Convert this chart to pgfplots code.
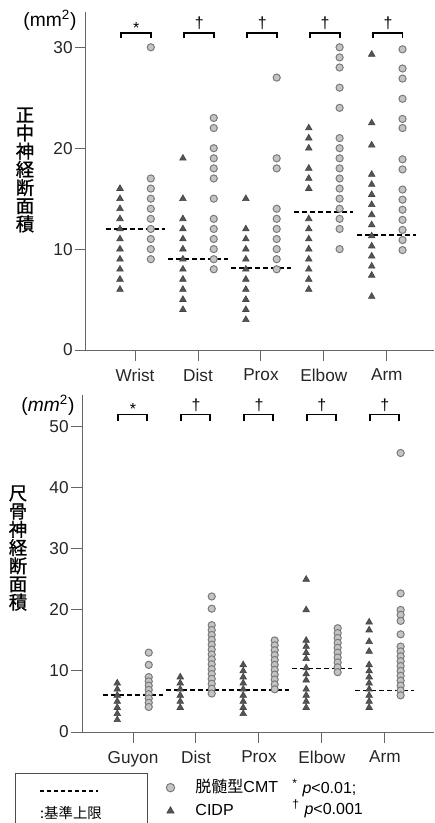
\documentclass[border=0pt]{standalone}
\usepackage{fontspec}
\setmainfont{Liberation Sans}
\newfontfamily\jp{Noto Sans CJK JP}
\newfontfamily\jpb[FakeBold=1]{Noto Sans CJK JP}
\usepackage{pgfplots}
\usepackage{pgfplotstable}
\pgfplotsset{compat=1.18}
\definecolor{cmtfill}{HTML}{C4C4C4}
\definecolor{cmtedge}{HTML}{7A7A7A}
\definecolor{cidp}{HTML}{555555}

\pgfplotstableread{
c y
0 16
0 15
0 14
0 13
0 12
0 11
0 10
0 9
0 8
0 7
0 6
1 19
1 15
1 13
1 12
1 11
1 10
1 9
1 8
1 7
1 6
1 5
1 4
2 15
2 12
2 11
2 10
2 9
2 8
2 7
2 6
2 5
2 4
2 3
3 22
3 21
3 20
3 18
3 17
3 16
3 13
3 12
3 11
3 10
3 9
3 8
3 7
3 6
4 29.3
4 22.5
4 20.3
4 17.4
4 16.4
4 15.4
4 14.4
4 13.4
4 12.4
4 11.3
4 10.3
4 9.3
4 8.3
4 7.4
4 5.3
}\topcidp

\pgfplotstableread{
c y
0 30
0 17
0 16
0 15
0 14
0 13
0 12
0 11
0 10
0 9
1 23
1 22
1 20
1 19
1 18
1 17
1 15
1 13
1 12
1 11
1 10
1 9
1 8
2 27
2 19
2 18
2 14
2 13
2 12
2 11
2 10
2 9
2 8
3 30
3 29
3 28
3 26
3 24
3 21
3 20
3 19
3 18
3 17
3 16
3 15
3 14
3 13
3 12
3 10
4 29.8
4 27.9
4 26.9
4 24.9
4 22.9
4 22
4 18.9
4 17.9
4 15.9
4 14.9
4 13.9
4 12.9
4 11.9
4 10.9
4 9.9
}\topcmt

\pgfplotstableread{
c y
0 8
0 7
0 6
0 5
0 4
0 3
0 2
1 9
1 8
1 7
1 6
1 5
1 4
2 11
2 10
2 9
2 8
2 7
2 6
2 5
2 4
2 3
3 25
3 20
3 15
3 14
3 13
3 12
3 10.5
3 9.5
3 8.5
3 7
3 6
3 5
3 4
4 18
4 16.7
4 14.8
4 13.2
4 11
4 10
4 9
4 8
4 7
4 6
4 5
4 4
}\botcidp

\pgfplotstableread{
c y
0 13
0 11
0 9
0 8.3
0 7.6
0 6.9
0 6.2
0 5.5
0 4.8
0 4.1
1 22.2
1 20.2
1 17.5
1 16.7
1 15.9
1 15.1
1 14.3
1 13.5
1 12.7
1 11.9
1 11.1
1 10.3
1 9.5
1 8.7
1 7.9
1 7.1
1 6.3
2 15
2 14.2
2 13.4
2 12.6
2 11.8
2 11.0
2 10.2
2 9.4
2 8.6
2 7.8
2 7.0
3 17
3 16.2
3 15.4
3 14.6
3 13.8
3 13
3 12.2
3 11.4
3 10.6
3 9.8
4 45.7
4 22.7
4 20
4 19.2
4 18.2
4 16
4 14
4 13.2
4 12.4
4 11.6
4 10.8
4 10
4 9.2
4 8.4
4 7.6
4 6.8
4 6.0
}\botcmt

\pgfplotsset{
  panel/.style={
    scale only axis,
    axis x line=bottom, axis y line=left,
    axis line style={-, black!60, line width=0.5pt},
    tick style={black!60, line width=0.5pt},
    tick align=outside, major tick length=5.5pt,
    xtick={0,1,2,3,4},
    clip=false,
    /pgf/number format/assume math mode=true,
    tick label style={font=\fontsize{8.6}{10}\selectfont, black!85},
    yticklabel style={inner sep=1pt},
    xticklabel style={yshift=-0.5pt},
  },
  cidpm/.style={only marks, mark=triangle*, mark size=1.9pt,
    mark options={fill=cidp, draw=cidp!80!black, line width=0.3pt}},
  cmtm/.style={only marks, mark=*, mark size=1.8pt,
    mark options={fill=cmtfill, draw=cmtedge, line width=0.5pt}},
  med/.style={black, line width=0.95pt, dash pattern=on 2.5pt off 1.5pt},
  brk/.style={black, line width=0.9pt},
}

\begin{document}
\begin{tikzpicture}
\path[use as bounding box] (0,0) rectangle (217pt,-411.5pt);

% ---------- top panel ----------
\begin{axis}[panel,
  at={(43pt,-175pt)}, anchor=south west,
  width=174pt, height=169pt,
  xmin=-0.78, xmax=4.75, ymin=0, ymax=33.5,
  ytick={0,10,20,30},
  xticklabels={Wrist,Dist,Prox,Elbow,Arm}]
\addplot[cidpm] table[x expr=\thisrow{c}-0.24, y=y] {\topcidp};
\addplot[cmtm] table[x expr=\thisrow{c}+0.25, y=y] {\topcmt};
\addplot[med] coordinates {(-0.47,12) (0.47,12)};
\addplot[med] coordinates {(0.53,9.0) (1.47,9.0)};
\addplot[med] coordinates {(1.53,8.1) (2.47,8.1)};
\addplot[med] coordinates {(2.53,13.7) (3.47,13.7)};
\addplot[med] coordinates {(3.53,11.4) (4.47,11.4)};
\addplot[brk] coordinates {(-0.22,30.9) (-0.22,31.4) (0.25,31.4) (0.25,30.9)};
\addplot[brk] coordinates {(0.78,30.9) (0.78,31.4) (1.25,31.4) (1.25,30.9)};
\addplot[brk] coordinates {(1.78,30.9) (1.78,31.4) (2.25,31.4) (2.25,30.9)};
\addplot[brk] coordinates {(2.78,30.9) (2.78,31.4) (3.25,31.4) (3.25,30.9)};
\addplot[brk] coordinates {(3.78,30.9) (3.78,31.4) (4.25,31.4) (4.25,30.9)};
\node[font=\fontsize{8}{8}\selectfont] at (axis cs:0.02,31.9) {*};
\node[font=\fontsize{8}{8}\selectfont] at (axis cs:1.02,32.4) {†};
\node[font=\fontsize{8}{8}\selectfont] at (axis cs:2.02,32.4) {†};
\node[font=\fontsize{8}{8}\selectfont] at (axis cs:3.02,32.4) {†};
\node[font=\fontsize{8}{8}\selectfont] at (axis cs:4.02,32.4) {†};
\end{axis}

% ---------- bottom panel ----------
\begin{axis}[panel,
  at={(41pt,-366pt)}, anchor=south west,
  width=176pt, height=168.5pt,
  xmin=-0.81, xmax=4.78, ymin=0, ymax=55.2,
  ytick={0,10,20,30,40,50},
  xticklabels={Guyon,Dist,Prox,Elbow,Arm},
  legend image code/.code={%
    \path[draw=none, fill=none] (-2.5pt,-2.5pt) rectangle (12pt,2.5pt);
    \draw[#1, mark size=2.1pt] plot coordinates {(0pt,0pt)};},
  legend style={draw=none, fill=none, at={(0.236,-0.1365)}, anchor=north west,
    font=\fontsize{8}{9}\selectfont, row sep=3pt, inner sep=0pt,
    nodes={inner sep=0.5pt}},
  legend cell align=left]
\addplot[cmtm] table[x expr=\thisrow{c}+0.25, y=y] {\botcmt};
\addlegendentry{{\jp 脱髄型}CMT}
\addplot[cidpm] table[x expr=\thisrow{c}-0.25, y=y] {\botcidp};
\addlegendentry{CIDP}
\addplot[med, forget plot] coordinates {(-0.47,6.1) (0.47,6.1)};
\addplot[med, forget plot] coordinates {(0.53,6.9) (1.47,6.9)};
\addplot[med, forget plot] coordinates {(1.53,6.9) (2.47,6.9)};
\addplot[med, forget plot] coordinates {(2.53,10.4) (3.47,10.4)};
\addplot[med, forget plot] coordinates {(3.53,6.8) (4.47,6.8)};
\addplot[brk, forget plot] coordinates {(-0.24,50.9) (-0.24,52) (0.22,52) (0.22,50.9)};
\addplot[brk, forget plot] coordinates {(0.76,50.9) (0.76,52) (1.22,52) (1.22,50.9)};
\addplot[brk, forget plot] coordinates {(1.76,50.9) (1.76,52) (2.22,52) (2.22,50.9)};
\addplot[brk, forget plot] coordinates {(2.76,50.9) (2.76,52) (3.22,52) (3.22,50.9)};
\addplot[brk, forget plot] coordinates {(3.76,50.9) (3.76,52) (4.22,52) (4.22,50.9)};
\node[font=\fontsize{8}{8}\selectfont] at (axis cs:0,52.9) {*};
\node[font=\fontsize{8}{8}\selectfont] at (axis cs:1,53.6) {†};
\node[font=\fontsize{8}{8}\selectfont] at (axis cs:2,53.6) {†};
\node[font=\fontsize{8}{8}\selectfont] at (axis cs:3,53.6) {†};
\node[font=\fontsize{8}{8}\selectfont] at (axis cs:4,53.6) {†};
\end{axis}

% ---------- axis titles ----------
\node[font=\fontsize{9.6}{10}\selectfont] at (25pt,-10pt) {(mm\textsuperscript{2})};
\node[font=\fontsize{9.6}{10}\selectfont] at (24pt,-202.5pt) {(\textit{mm}\textsuperscript{2})};
\node[align=center, font=\jpb\fontsize{9.2}{9.1}\selectfont, inner sep=0pt] at (12.5pt,-85pt)
  {正\\中\\神\\経\\断\\面\\積};
\node[align=center, font=\jpb\fontsize{9.2}{9.1}\selectfont, inner sep=0pt] at (9pt,-274pt)
  {尺\\骨\\神\\経\\断\\面\\積};

% ---------- legend box ----------
\draw[black!70, line width=0.5pt] (7.5pt,-413pt) -- (7.5pt,-386.5pt) -- (73.5pt,-386.5pt) -- (73.5pt,-413pt);
\draw[black, line width=0.6pt, dash pattern=on 2.2pt off 1.3pt] (20pt,-395.5pt) -- (49pt,-395.5pt);
\node[font=\jp\fontsize{7.2}{8}\selectfont] at (35.5pt,-406.5pt) {:基準上限};
\node[anchor=west, font=\fontsize{8}{9}\selectfont, inner sep=0pt] at (146pt,-394pt) {\textsuperscript{*} \textit{p}<0.01;};
\node[anchor=west, font=\fontsize{8}{9}\selectfont, inner sep=0pt] at (146pt,-404.5pt) {\textsuperscript{†} \textit{p}<0.001};
\end{tikzpicture}
\end{document}
